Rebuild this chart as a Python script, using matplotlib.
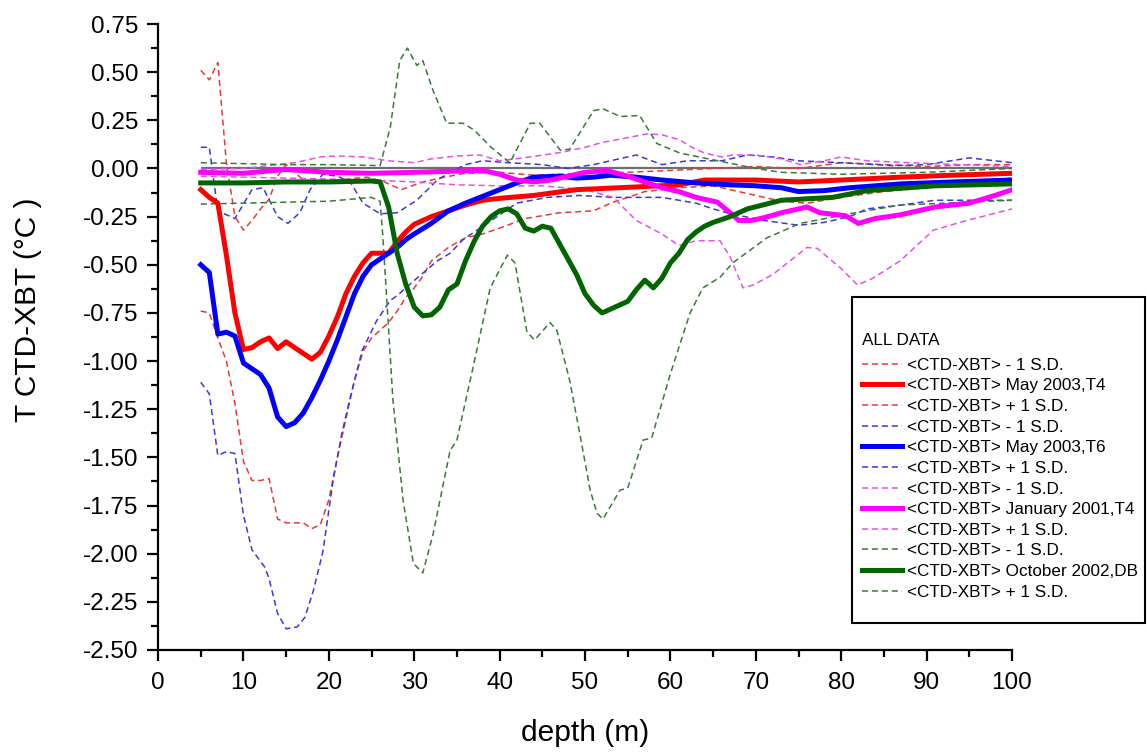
import matplotlib
matplotlib.use("Agg")
import numpy as np
from matplotlib import pyplot as plt
from matplotlib.patches import Rectangle
from matplotlib.ticker import MultipleLocator, FormatStrFormatter

plt.rcParams['font.family'] = ['Liberation Sans', 'DejaVu Sans']

# --- May 2003, T4 ---
red_mean_d = [5, 6, 7, 8, 9, 10, 11, 12, 13, 14, 15, 16, 17, 18, 19, 20, 21, 22, 23, 24, 25, 26, 27,
              28, 29, 30, 31, 32, 34, 36, 38, 40, 44, 49, 55, 61, 64, 67, 70, 75, 80, 87, 93, 100]
red_mean_v = [-0.11, -0.15, -0.18, -0.45, -0.75, -0.94, -0.93, -0.90, -0.88, -0.935, -0.90, -0.93,
              -0.96, -0.99, -0.955, -0.87, -0.77, -0.65, -0.56, -0.49, -0.44, -0.44, -0.44, -0.38,
              -0.33, -0.29, -0.27, -0.25, -0.22, -0.19, -0.165, -0.155, -0.14, -0.11, -0.098,
              -0.085, -0.06, -0.06, -0.06, -0.07, -0.06, -0.045, -0.035, -0.025]
red_lo_d = [5, 6, 7, 8, 9, 10, 11, 12, 13, 14, 15, 16, 17, 18, 19, 20, 21, 22, 23, 24, 25, 26, 27, 28,
            29, 30, 31, 32, 34, 36, 38, 40, 43, 47, 51, 53, 57, 61, 65, 67, 70, 73, 76, 80, 85, 90, 95, 100]
red_lo_v = [-0.74, -0.75, -0.88, -1.00, -1.22, -1.52, -1.62, -1.62, -1.61, -1.82, -1.84, -1.84, -1.84,
            -1.87, -1.85, -1.72, -1.50, -1.30, -1.10, -0.95, -0.88, -0.84, -0.80, -0.74, -0.67, -0.62,
            -0.56, -0.48, -0.41, -0.36, -0.34, -0.31, -0.26, -0.23, -0.22, -0.18, -0.12, -0.10, -0.09,
            -0.11, -0.14, -0.17, -0.18, -0.15, -0.12, -0.10, -0.07, -0.05]
red_hi_d = [5, 6, 7, 8, 9, 10, 11, 12, 13, 14, 15, 16, 17, 18, 21, 24.5, 26.5, 28.5, 31, 33.5, 36, 40,
            44, 50, 55, 60, 65, 70, 75, 80, 85, 90, 95, 100]
red_hi_v = [0.51, 0.46, 0.55, 0.03, -0.25, -0.32, -0.27, -0.21, -0.16, -0.04, 0.02, -0.02, -0.06,
            -0.08, -0.06, -0.045, -0.07, -0.11, -0.07, -0.045, -0.025, -0.02, -0.035, -0.025, -0.02,
            -0.01, 0.0, 0.01, 0.0, 0.03, 0.02, 0.01, 0.02, 0.02]

# --- May 2003, T6 ---
blue_mean_d = [5, 6, 7, 8, 9, 10, 11, 12, 13, 14, 15, 16, 17, 18, 19, 20, 21, 22, 23, 24, 25, 26, 27,
               28, 29, 30, 32, 34, 36, 38, 40, 42, 44, 47, 49, 51, 53, 56, 59, 63, 67, 70, 73, 75, 78,
               81, 87, 93, 100]
blue_mean_v = [-0.50, -0.54, -0.86, -0.85, -0.87, -1.01, -1.04, -1.07, -1.14, -1.29, -1.34, -1.32,
               -1.27, -1.19, -1.10, -1.00, -0.89, -0.77, -0.65, -0.56, -0.50, -0.47, -0.44, -0.41,
               -0.37, -0.34, -0.285, -0.22, -0.18, -0.145, -0.11, -0.075, -0.045, -0.04, -0.05,
               -0.045, -0.035, -0.045, -0.06, -0.075, -0.085, -0.09, -0.10, -0.12, -0.115, -0.10,
               -0.08, -0.07, -0.06]
blue_lo_d = [5, 6, 7, 8, 9, 10, 11, 12.5, 13, 14, 15, 16.3, 17.2, 18.2, 19.3, 20.5, 21.5, 22.5, 23.9,
             25.6, 27.2, 28, 30.3, 32.7, 34.2, 35.7, 37.7, 39.7, 42, 45.6, 49.4, 53.3, 59, 63, 65, 67,
             71, 75, 78, 81, 83, 87, 91, 100]
blue_lo_v = [-1.11, -1.17, -1.49, -1.47, -1.48, -1.80, -1.98, -2.07, -2.13, -2.31, -2.39, -2.38, -2.33,
             -2.19, -1.99, -1.62, -1.38, -1.19, -0.945, -0.79, -0.685, -0.66, -0.57, -0.48, -0.44,
             -0.37, -0.31, -0.25, -0.18, -0.15, -0.14, -0.15, -0.15, -0.18, -0.21, -0.235, -0.27,
             -0.295, -0.28, -0.25, -0.21, -0.19, -0.165, -0.165]
blue_hi_d = [5, 6, 7, 9, 11, 12.3, 14, 15.2, 16.6, 17.8, 19.3, 21, 22.5, 24, 26, 28, 30.3, 32.7, 34.2,
             36, 38, 41, 45, 48, 51, 54, 56, 59, 62, 66, 69, 72, 75, 80, 86, 90, 95, 100]
blue_hi_v = [0.11, 0.11, -0.22, -0.26, -0.11, -0.10, -0.25, -0.285, -0.23, -0.11, -0.03, -0.04, -0.07,
             -0.18, -0.235, -0.23, -0.165, -0.06, -0.02, 0.02, 0.04, 0.03, 0.02, 0.0, 0.02, 0.05,
             0.07, 0.02, 0.04, 0.04, 0.07, 0.06, 0.04, 0.03, 0.015, 0.02, 0.055, 0.03]

# --- January 2001, T4 ---
mag_mean_d = [5, 10, 15, 20, 25, 30, 34, 38, 40, 42, 44, 46, 48, 50, 52.5, 55, 57, 59, 61, 63, 65.5,
              67, 68, 69.5, 71, 73, 76, 77.5, 80.5, 82, 84, 87, 91, 95, 98, 100]
mag_mean_v = [-0.02, -0.025, -0.005, -0.02, -0.025, -0.02, -0.015, -0.01, -0.03, -0.06, -0.07, -0.06,
              -0.04, -0.02, -0.01, -0.04, -0.07, -0.10, -0.12, -0.15, -0.175, -0.23, -0.27, -0.27,
              -0.255, -0.23, -0.20, -0.23, -0.245, -0.285, -0.26, -0.24, -0.20, -0.18, -0.14, -0.11]
mag_lo_d = [5, 10, 15, 20, 25, 30, 35, 40, 45, 50, 53.3, 56, 59, 61, 63, 65.8, 67, 68.5, 69.7, 72, 76,
            77.2, 80, 81.9, 83.7, 86.9, 90.8, 94.7, 100]
mag_lo_v = [-0.04, -0.045, -0.05, -0.055, -0.06, -0.07, -0.085, -0.09, -0.09, -0.11, -0.15, -0.27,
            -0.34, -0.40, -0.375, -0.375, -0.46, -0.62, -0.605, -0.55, -0.41, -0.415, -0.52, -0.605,
            -0.57, -0.48, -0.32, -0.27, -0.21]
mag_hi_d = [5, 10, 14, 16, 19, 21, 24, 27, 30, 32, 35, 37.7, 40, 43.6, 47.4, 50, 52, 55, 57.3, 59, 61,
            62.5, 64, 66, 67.3, 70, 73, 75.2, 78, 80, 83, 88, 94, 100]
mag_hi_v = [-0.005, 0.0, 0.02, 0.03, 0.06, 0.065, 0.06, 0.04, 0.03, 0.05, 0.065, 0.07, 0.04, 0.06,
            0.085, 0.11, 0.135, 0.16, 0.18, 0.175, 0.15, 0.11, 0.08, 0.06, 0.07, 0.07, 0.05, 0.02,
            0.04, 0.06, 0.04, 0.03, 0.02, 0.01]

# --- October 2002, DB ---
grn_mean_d = [5, 10, 15, 20, 25, 26, 27, 28, 29, 30, 31, 32, 33, 34, 35, 36, 37, 38, 39, 40, 41, 42,
              43, 44, 45, 46, 47, 48, 49, 50, 51, 52, 53, 54, 55, 56, 57, 58, 59, 60, 61, 62, 63, 64,
              65, 67, 69, 73, 79, 83, 91, 100]
grn_mean_v = [-0.075, -0.075, -0.07, -0.07, -0.065, -0.07, -0.20, -0.44, -0.60, -0.72, -0.765,
              -0.76, -0.72, -0.63, -0.60, -0.48, -0.38, -0.30, -0.25, -0.22, -0.21, -0.235, -0.31,
              -0.325, -0.30, -0.31, -0.39, -0.47, -0.55, -0.65, -0.71, -0.75, -0.73, -0.71, -0.69,
              -0.63, -0.58, -0.62, -0.57, -0.49, -0.44, -0.37, -0.33, -0.30, -0.28, -0.25, -0.21,
              -0.165, -0.15, -0.115, -0.09, -0.08]
grn_lo_d = [5, 10, 15, 20, 25, 26, 26.3, 26.8, 27.5, 28.7, 29.9, 31, 32.2, 33, 34.2, 35, 36.9, 38.9,
            40.9, 41.8, 43.2, 44.1, 45.9, 46.7, 48.2, 49.4, 50.6, 51.4, 52.1, 54.1, 55, 56.8, 57.8, 60,
            62.3, 63.8, 65.8, 67.3, 71.3, 75.2, 81, 86.9, 100]
grn_lo_v = [-0.185, -0.18, -0.175, -0.17, -0.15, -0.17, -0.34, -0.69, -1.20, -1.725, -2.05, -2.10,
            -1.90, -1.725, -1.465, -1.41, -1.03, -0.62, -0.45, -0.49, -0.85, -0.89, -0.80, -0.84,
            -1.10, -1.38, -1.67, -1.79, -1.82, -1.67, -1.66, -1.41, -1.40, -1.065, -0.75, -0.62,
            -0.565, -0.49, -0.36, -0.285, -0.235, -0.19, -0.165]
grn_hi_d = [5, 10, 15, 20, 26, 27.2, 28.3, 29.2, 30.3, 31, 32.2, 33.8, 35.7, 37, 39, 41.2, 43.6, 44.7,
            47.1, 48.2, 51, 52.1, 54.1, 56.4, 58.4, 61.1, 65, 70, 73, 80, 90, 100]
grn_hi_v = [0.03, 0.025, 0.02, 0.02, 0.015, 0.215, 0.56, 0.625, 0.535, 0.56, 0.405, 0.235, 0.235,
            0.20, 0.11, 0.03, 0.235, 0.235, 0.095, 0.10, 0.30, 0.31, 0.27, 0.275, 0.13, 0.08, 0.045,
            0.0, -0.02, -0.03, -0.02, 0.0]

zero_line_span = (5, 100)

W, H = 1147, 753
fig = plt.figure(figsize=(W / 100, H / 100), dpi=100)
ax = fig.add_axes([0.1378, 0.1368, 0.7445, 0.8313])

ax.hlines(0, zero_line_span[0], zero_line_span[1], color='#6e6e6e', lw=1.6, zorder=1)

dash = (0, (4, 2.5))
groups = [
    ('May 2003,T4', '#ff0000', '#e83a3a', red_lo_d, red_lo_v, red_mean_d, red_mean_v, red_hi_d, red_hi_v),
    ('May 2003,T6', '#0000ff', '#3a3ad8', blue_lo_d, blue_lo_v, blue_mean_d, blue_mean_v, blue_hi_d, blue_hi_v),
    ('January 2001,T4', '#ff00ff', '#e850e8', mag_lo_d, mag_lo_v, mag_mean_d, mag_mean_v, mag_hi_d, mag_hi_v),
    ('October 2002,DB', '#006400', '#3a7a3a', grn_lo_d, grn_lo_v, grn_mean_d, grn_mean_v, grn_hi_d, grn_hi_v),
]
for name, c, cd, lo_d, lo_v, m_d, m_v, hi_d, hi_v in groups:
    ax.plot(lo_d, lo_v, color=cd, lw=1.1, ls=dash, label='<CTD-XBT> - 1 S.D.', zorder=2)
    ax.plot(m_d, m_v, color=c, lw=3.6, label='<CTD-XBT> ' + name, zorder=3)
    ax.plot(hi_d, hi_v, color=cd, lw=1.1, ls=dash, label='<CTD-XBT> + 1 S.D.', zorder=2)

ax.set_xlim(0, 100)
ax.set_ylim(-2.5, 0.75)
ax.xaxis.set_major_locator(MultipleLocator(10))
ax.xaxis.set_minor_locator(MultipleLocator(5))
ax.yaxis.set_major_locator(MultipleLocator(0.25))
ax.yaxis.set_minor_locator(MultipleLocator(0.125))
ax.yaxis.set_major_formatter(FormatStrFormatter('%.2f'))

for s in ['top', 'right']:
    ax.spines[s].set_visible(False)
for s in ['left', 'bottom']:
    ax.spines[s].set_linewidth(1.6)
ax.tick_params(which='major', direction='out', length=8, width=1.6, labelsize=17.5)
ax.tick_params(axis='y', which='major', pad=6)
ax.tick_params(axis='x', which='major', pad=8)
ax.tick_params(which='minor', direction='out', length=5, width=1.6)

ax.set_xlabel('depth (m)', fontsize=21.5, labelpad=18)
ax.set_ylabel('T CTD-XBT (°C )', fontsize=21.5)
ax.yaxis.set_label_coords(-0.136, 0.543)

# legend box (frame drawn separately so the padding matches)
fig.patches.append(Rectangle((852 / W, 1 - 623 / H), (1145 - 852) / W, (623 - 297) / H,
                             transform=fig.transFigure, facecolor='white', edgecolor='black',
                             lw=1.5, zorder=4))
leg = fig.legend(loc='upper left', bbox_to_anchor=(862 / W, 1 - 333 / H),
                 title='ALL DATA', fontsize=12.3, title_fontsize=12.3, alignment='left',
                 frameon=False, handlelength=2.35, handletextpad=0.3, labelspacing=0.33,
                 borderpad=0, borderaxespad=0)
leg._legend_box.sep = 7
leg.set_zorder(5)

fig.savefig('out.png', dpi=100)
